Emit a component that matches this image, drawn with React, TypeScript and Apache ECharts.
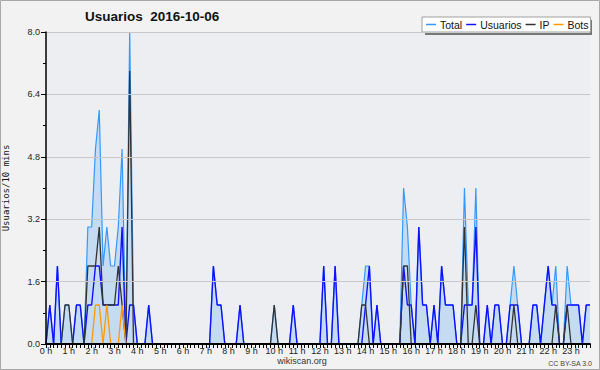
import React, { useEffect, useRef } from 'react';
import * as echarts from 'echarts';

const hourLabels = [
  '0 h', '1 h', '2 h', '3 h', '4 h', '5 h', '6 h', '7 h', '8 h', '9 h', '10 h', '11 h',
  '12 h', '13 h', '14 h', '15 h', '16 h', '17 h', '18 h', '19 h', '20 h', '21 h', '22 h', '23 h',
];
const minuteSlots = ['00', '10', '20', '30', '40', '50'];
const timeSlots = hourLabels.flatMap((_, h) => minuteSlots.map((m) => `${h}:${m}`));

const yTicks = { min: 0, max: 8, interval: 1.6 };

// one row per hour, 6 values (10-minute slots)
const total = [
  0, 1, 0, 2, 0, 1,
  1, 0, 1, 1, 0, 3,
  3, 5, 6, 2, 3, 2,
  2, 3, 5, 0, 8, 1,
  0, 0, 0, 1, 0, 0,
  0, 0, 0, 0, 0, 0,
  0, 0, 0, 0, 0, 0,
  0, 0, 2, 1, 1, 0,
  0, 0, 0, 1, 0, 0,
  0, 0, 0, 0, 0, 0,
  1, 0, 0, 0, 0, 1,
  0, 0, 0, 0, 0, 0,
  0, 2, 0, 0, 2, 0,
  0, 0, 0, 0, 0, 1,
  2, 2, 0, 1, 0, 0,
  0, 0, 0, 0, 4, 3,
  1, 0, 3, 1, 1, 0,
  1, 0, 2, 1, 1, 1,
  0, 0, 4, 1, 1, 4,
  0, 0, 1, 0, 1, 1,
  0, 0, 1, 2, 1, 0,
  0, 0, 1, 1, 0, 1,
  2, 1, 2, 0, 0, 2,
  1, 1, 1, 0, 1, 1,
];

const usuarios = [
  0, 1, 0, 2, 0, 0,
  0, 0, 1, 1, 0, 1,
  1, 2, 2, 1, 1, 1,
  1, 1, 3, 0, 1, 1,
  0, 0, 0, 1, 0, 0,
  0, 0, 0, 0, 0, 0,
  0, 0, 0, 0, 0, 0,
  0, 0, 2, 1, 1, 0,
  0, 0, 0, 1, 0, 0,
  0, 0, 0, 0, 0, 0,
  0, 0, 0, 0, 0, 1,
  0, 0, 0, 0, 0, 0,
  0, 2, 0, 0, 2, 0,
  0, 0, 0, 0, 0, 0,
  1, 2, 0, 1, 0, 0,
  0, 0, 0, 0, 2, 1,
  1, 0, 3, 1, 1, 0,
  1, 0, 2, 1, 1, 1,
  0, 0, 1, 1, 1, 3,
  0, 0, 1, 0, 1, 1,
  0, 0, 1, 1, 1, 0,
  0, 0, 1, 1, 0, 1,
  2, 1, 1, 0, 0, 1,
  1, 1, 1, 0, 1, 1,
];

const ip = [
  0, 0, 0, 0, 0, 1,
  1, 0, 0, 0, 0, 2,
  2, 2, 3, 1, 1, 1,
  1, 2, 1, 0, 7, 0,
  0, 0, 0, 0, 0, 0,
  0, 0, 0, 0, 0, 0,
  0, 0, 0, 0, 0, 0,
  0, 0, 0, 0, 0, 0,
  0, 0, 0, 0, 0, 0,
  0, 0, 0, 0, 0, 0,
  1, 0, 0, 0, 0, 0,
  0, 0, 0, 0, 0, 0,
  0, 0, 0, 0, 0, 0,
  0, 0, 0, 0, 0, 1,
  1, 0, 0, 0, 0, 0,
  0, 0, 0, 0, 2, 2,
  0, 0, 0, 0, 0, 0,
  0, 0, 0, 0, 0, 0,
  0, 0, 3, 0, 0, 1,
  0, 0, 0, 0, 0, 0,
  0, 0, 0, 1, 0, 0,
  0, 0, 0, 0, 0, 0,
  0, 0, 1, 0, 0, 1,
  0, 0, 0, 0, 0, 0,
];

const bots = [
  0, 0, 0, 0, 0, 0,
  0, 0, 0, 0, 0, 0,
  0, 1, 1, 0, 1, 0,
  0, 0, 1, 0, 0, 0,
  ...new Array(120).fill(0),
];

const FONT = 'Liberation Sans';

export default function App() {
  const ref = useRef<HTMLDivElement>(null);
  useEffect(() => {
    const chart = echarts.init(ref.current!, null, { renderer: 'svg' });
    const lineSeries = (name: string, data: number[], color: string, width: number, z: number, area?: string) => ({
      name,
      type: 'line',
      data,
      symbol: 'none',
      z,
      lineStyle: { color, width },
      itemStyle: { color },
      areaStyle: area ? { color: area, opacity: 1 } : undefined,
    });
    chart.setOption({
      animation: false,
      backgroundColor: '#f2f2f2',
      title: {
        text: 'Usuarios  2016-10-06',
        left: 85,
        top: 9,
        padding: 0,
        textStyle: { fontFamily: FONT, fontWeight: 'bold', fontSize: 13.5, color: '#111' },
      },
      legend: {
        data: ['Total', 'Usuarios', 'IP', 'Bots'],
        left: 422,
        top: 17,
        icon: 'rect',
        itemWidth: 10,
        itemHeight: 1.5,
        itemGap: 4,
        padding: [2, 2, 2, 4],
        backgroundColor: '#ffffff',
        borderColor: '#a0a0a0',
        borderWidth: 1,
        textStyle: { fontFamily: FONT, fontSize: 10.5, color: '#111', padding: [0, 0, 0, -1] },
      },
      grid: {
        left: 46,
        right: 10,
        top: 32,
        bottom: 26,
        show: true,
        backgroundColor: '#eceef1',
        borderWidth: 0,
        outerBoundsMode: 'none',
        containLabel: false,
      },
      xAxis: {
        type: 'category',
        data: timeSlots,
        boundaryGap: false,
        z: 10,
        axisLine: { lineStyle: { color: '#000', width: 2 } },
        axisTick: { show: true, interval: 0, length: 4, lineStyle: { color: '#000' } },
        axisLabel: {
          interval: 5,
          margin: 2,
          fontFamily: FONT,
          fontSize: 9,
          color: '#222',
          formatter: (_v: string, idx: number) => hourLabels[Math.floor(idx / 6)],
        },
        splitLine: { show: false },
      },
      yAxis: {
        type: 'value',
        min: yTicks.min,
        max: yTicks.max,
        interval: yTicks.interval,
        z: 10,
        name: 'Usuarios/10 mins',
        nameLocation: 'middle',
        nameGap: 36,
        nameRotate: 90,
        nameTextStyle: { fontFamily: 'DejaVu Sans Mono', fontSize: 9, color: '#111' },
        axisLine: { show: true, lineStyle: { color: '#000', width: 1.5 } },
        axisTick: { show: true, length: 5, lineStyle: { color: '#000' } },
        minorTick: { show: true, splitNumber: 2, length: 3, lineStyle: { color: '#000' } },
        axisLabel: {
          margin: 6,
          fontFamily: FONT,
          fontSize: 9,
          color: '#222',
          formatter: (v: number) => v.toFixed(1),
        },
        splitLine: { show: true, lineStyle: { color: '#c8c8c8', width: 1 } },
      },
      graphic: [
        {
          type: 'rect',
          z: 3,
          shape: { x: 425, y: 20, width: 167, height: 15 },
          style: { fill: '#777' },
        },
        {
          type: 'rect',
          z: 100,
          shape: { x: 0.5, y: 0.5, width: 599, height: 369 },
          style: { fill: 'none', stroke: '#a8a8a8', lineWidth: 1 },
        },
        {
          type: 'text',
          x: 302,
          y: 361,
          style: {
            text: 'wikiscan.org',
            fill: '#333',
            font: `9px "${FONT}"`,
            textAlign: 'center',
            textVerticalAlign: 'middle',
          },
        },
        {
          type: 'text',
          x: 592,
          y: 363,
          style: {
            text: 'CC BY-SA 3.0',
            fill: '#444',
            font: `7px "${FONT}"`,
            textAlign: 'right',
            textVerticalAlign: 'middle',
          },
        },
      ],
      series: [
        lineSeries('Total', total, '#3399ff', 1.2, 2, '#c4dbf1'),
        lineSeries('Usuarios', usuarios, '#1010ff', 1.4, 3),
        lineSeries('IP', ip, '#333333', 1.3, 4),
        lineSeries('Bots', bots, '#ff9900', 1.3, 5),
      ],
    });
    return () => chart.dispose();
  }, []);
  return <div ref={ref} style={{ position: 'absolute', left: 0, top: 0, width: 600, height: 370 }} />;
}
